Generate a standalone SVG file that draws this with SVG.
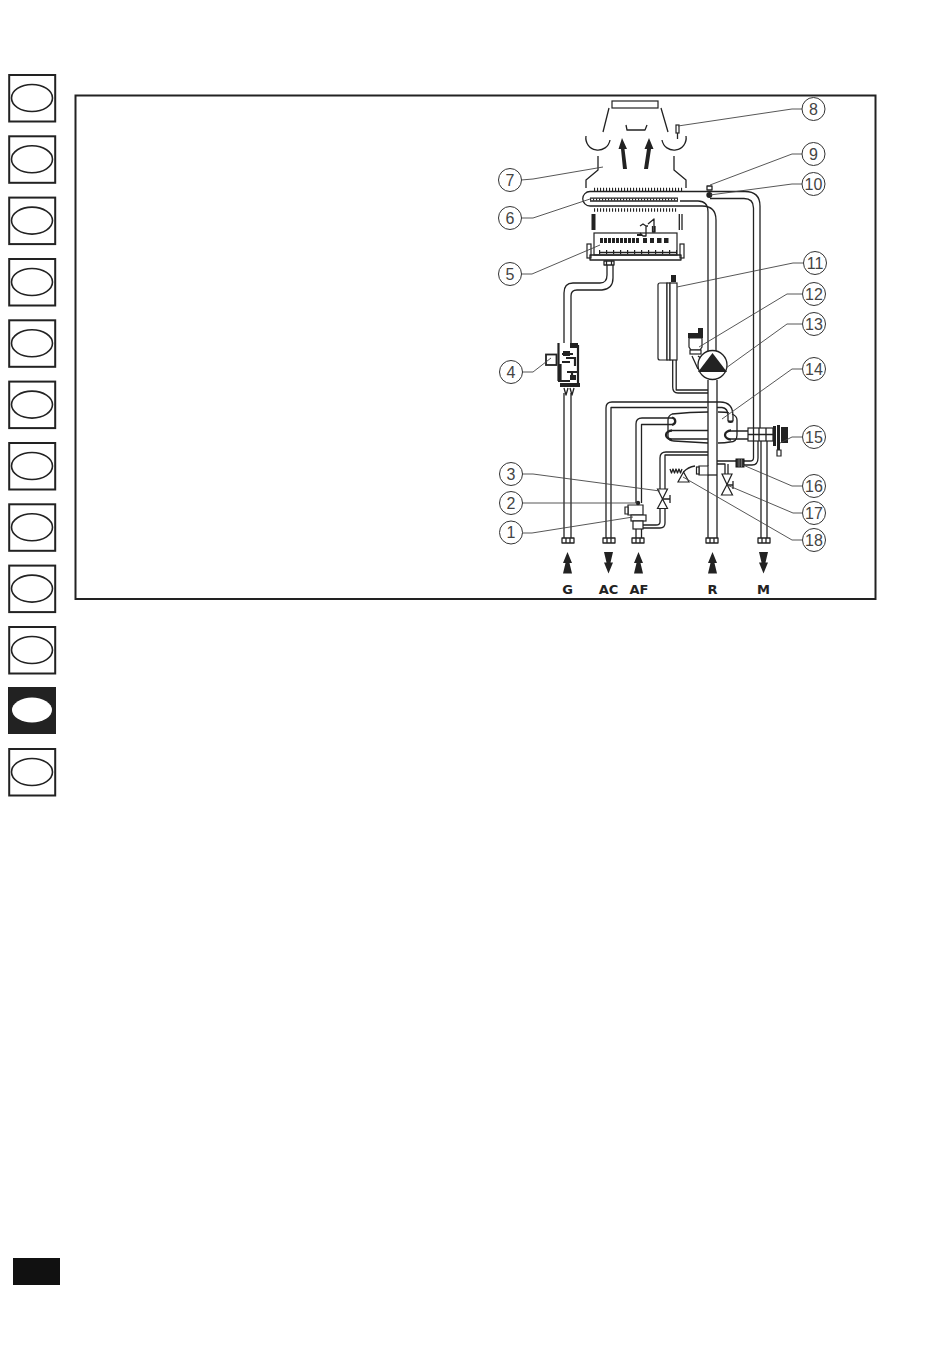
<svg xmlns="http://www.w3.org/2000/svg" width="950" height="1360" viewBox="0 0 950 1360">
<defs>
<style>
.p{fill:none;stroke:#222;stroke-width:1.3;stroke-linejoin:round}
.t{fill:none;stroke:#222;stroke-width:2.2}
.w{fill:#fff;stroke:#222;stroke-width:1.2}
.b{fill:#222;stroke:none}
.l{fill:none;stroke:#444;stroke-width:.9}
.c{fill:#fff;stroke:#333;stroke-width:1}
.n{font-family:"Liberation Sans",Arial,sans-serif;font-size:16px;fill:#444;text-anchor:middle}
.k{font-family:"DejaVu Sans",sans-serif;font-weight:bold;font-size:13px;fill:#222;text-anchor:middle}
.box{fill:#fff;stroke:#222;stroke-width:2}
.el{fill:#fff;stroke:#222;stroke-width:1.6}
.fin{fill:none;stroke:#222;stroke-width:3.5;stroke-dasharray:1.1 1.9}
</style>
<g id="tab"><rect class="box" x="9.2" y="0" width="46" height="46.5"/><ellipse class="el" cx="32" cy="23" rx="20.5" ry="13.5"/></g>
<path id="up" class="b" d="M0,0L-4.500,11H-2L-4.500,21.500H4.500L2,11H4.500Z"/>
<path id="dn" class="b" d="M0,21.500L-4.500,10.500H-2L-4.500,0H4.500L2,10.500H4.500Z"/>
</defs>

<g id="side-tabs">
<use href="#tab" y="75"/><use href="#tab" y="136.3"/><use href="#tab" y="197.6"/><use href="#tab" y="259"/>
<use href="#tab" y="320.3"/><use href="#tab" y="381.6"/><use href="#tab" y="443"/><use href="#tab" y="504.3"/>
<use href="#tab" y="565.6"/><use href="#tab" y="627"/>
<rect class="b" x="8" y="687" width="48" height="47"/><ellipse cx="32" cy="710" rx="20" ry="12.5" fill="#fff"/>
<use href="#tab" y="749"/>
</g>
<rect id="page-mark" x="13" y="1258" width="47" height="27" fill="#111"/>
<rect id="frame" x="75.5" y="95.5" width="800" height="503.5" fill="none" stroke="#222" stroke-width="2"/>

<g id="pipes">
<path class="p" d="M590,191.5H745Q760,191.5 760,206V428"/>
<path class="p" d="M710,198.5H744Q753.5,198.5 753.5,208V428"/>
<path class="p" d="M590,191.5A7.2,7.2 0 0 0 590,206H702Q716,206 716,220V352"/>
<path class="p" d="M680,201H698Q708,201 708,212V352"/>
<path class="p" d="M564,343V293Q564,283 573,283H600Q607,283 607,275V265"/>
<path class="p" d="M571,343V296Q571,290 577,290H602Q613,289 613,278V265"/>
<path class="p" d="M564,393V538M571,393V538"/>
<path class="p" d="M606,538V408Q606,402 612,402H720Q733,402 733,416V421"/>
<path class="p" d="M611,538V407.5H707M717,407.5H722Q728,408 728,416V421"/>
<path class="p" d="M636,503V424Q636,418 642,418H672"/>
<path class="p" d="M641.5,503V424.5H672"/>
<path class="p" d="M708,380V466M717,380V475M708,475V538M717,475V538"/>
<path class="p" d="M672.7,360V387Q672.7,393 678,393H708M676.2,360V390H708"/>
<path class="p" d="M660,489V458Q660,452 666,452H708M665,489V455H708"/>
<path class="p" d="M660,508V522Q660,525 656,525H643M665,508V523Q665,528 660,528H643"/>
<path class="p" d="M761,441V538M767,441V538"/>
<path class="p" d="M758,441V458Q758,465 752,465H744M753.5,441V458Q753.5,461 750,461H744"/>
<path class="p" d="M717,461H736M717,464H725V474M728,464V474"/>
</g>

<g id="hood">
<rect class="w" x="612" y="101" width="46" height="7" stroke-width="1.6"/>
<path class="p" d="M609,108L603,132M661,108L668,132M626,125L627,130H645L647,125"/>
<path class="p" d="M586,136A12,12 0 0 0 610,140M662,140A12,12 0 0 0 686,136"/>
<path class="p" d="M598,156V170L586,180V188M674,156V170L686,180V188"/>
<path class="b" d="M622,138L618.5,149H621L623,169H627L624.5,149H627ZM649,138L644.5,149H647L644,169H648L651,149H653.5Z"/>
</g>

<g id="exchanger">
<path class="fin" d="M594,189.5H683M594,210H678"/>
<path class="p" d="M590,198.2H678M590,201H678"/>
<path class="fin" style="stroke-width:2" d="M590,199.6H678"/>
<rect class="b" x="591.5" y="214" width="4" height="16"/>
<path class="p" d="M679.3,214V230M682,214V230"/>
</g>

<g id="burner">
<rect class="w" x="594" y="233" width="83" height="22"/>
<rect class="w" x="587" y="244" width="4" height="14"/><rect class="w" x="680" y="244" width="4" height="14"/>
<path class="p" d="M590,255H681V260H590Z"/>
<path class="fin" style="stroke-width:5;stroke-dasharray:3 1" d="M600,240.5H640"/>
<path class="b" d="M643,238h4v5h-4zM650,238h4v5h-4zM657,238h4.500v5h-4.500zM664,238h4.500v5h-4.500z"/>
<path class="fin" style="stroke-width:4;stroke-dasharray:1.2 5.8" d="M599,252H677"/>
<path class="p" d="M600,252.500H676"/>
<path class="p" d="M640,233L643,236H646V226L643,224L640,226M646.500,226H648M648,224L654,219V232M652.500,226V232H655V226"/>
<path class="b" d="M637,234h5v2h-5z"/>
<path class="p" d="M604,261H614V265H604ZM606.500,261V265M611.500,261V265"/>
</g>

<g id="gas-valve">
<rect x="546" y="354.500" width="10.500" height="10.500" fill="#fff" stroke="#222" stroke-width="1.800"/>
<path class="t" d="M558.500,343V381M578,345V386M560.500,364V380"/>
<path class="t" d="M558,381H570M561,386H580M562,354H573M566,358H575V366M562,362H570M567,372H577M572,372V380"/>
<path class="b" d="M570,343h8v5h-8zM563,351h7v5h-7zM570,375h6v5h-6zM560,383h20v4h-20z"/>
<path class="p" d="M564,388L566,395L568,388M570,388L572,395L574,388"/>
</g>

<g id="expansion-vessel">
<path class="w" d="M660,283H667V360H660Q658,360 658,358V285Q658,283 660,283Z"/>
<rect class="w" x="667" y="283" width="3" height="77"/>
<rect class="w" x="670" y="283" width="7" height="77"/>
<rect class="b" x="671" y="275" width="5" height="7"/>
</g>

<g id="air-vent">
<path class="b" d="M688,333H698V328H703V338H688Z"/>
<path class="w" d="M689,338H702V347L700,350H691L689,347Z"/>
<rect class="w" x="690" y="350" width="11" height="4"/>
<path class="p" d="M692,356L698,369M698,356L702,359"/>
</g>

<g id="pump">
<circle cx="712.500" cy="365" r="14.500" fill="#fff" stroke="#222" stroke-width="1.300"/>
<path class="b" d="M698,372L712.500,353L727,372Z"/>
</g>

<g id="heat-exchanger-plate">
<path class="p" d="M672,414Q690,412 708,412M718,412Q726,412 729,413M668,420V436Q668,441 674,441Q690,442 708,443M737,420V435Q737,442 730,442Q725,443 718,443"/>
<path d="M672,417.500A5,4 0 0 1 672,425M672,430.500A6,4.500 0 0 0 672,439.500M728,421A4.500,4 0 0 0 733,421M731,430.500A6,4.500 0 0 0 731,439.500" fill="none" stroke="#222" stroke-width="2.300"/>
<path class="p" d="M672,430.500H708M672,439H708M731,431H748M731,439H748"/>
<path class="p" d="M668,420Q668,416 672,414M737,420Q737,416 732,414"/>
</g>

<g id="divert-valve">
<rect class="w" x="748" y="428" width="25" height="13"/>
<path class="p" d="M753.500,428V441M759,428V441M766,428V441M748,434.500H773"/>
<path class="b" d="M773,426h3v20h-3zM777,425h3v25h-3zM781,427h7v16h-7z"/>
<path class="w" d="M777,450h4v6h-4z"/>
</g>

<g id="bypass-block">
<path class="w" d="M699,466H708V475H699Z"/>
<path class="p" d="M708,475H717"/>
<rect class="w" x="696.500" y="467" width="2.500" height="7"/>
</g>

<g id="component-16">
<rect x="736" y="459" width="8" height="8" fill="#333" stroke="#111"/>
<path d="M739,459v8M741.500,459v8" stroke="#999" stroke-width=".6"/>
</g>

<g id="valve-17">
<path class="w" d="M722,474H732L727,484.500Z"/><path class="w" d="M721.500,495H732.500L727,484.500Z"/>
<path class="p" d="M727,485H733M733,481V489"/>
</g>

<g id="valve-3">
<path class="w" d="M657.500,489H667.500L662.500,499Z"/><path class="w" d="M657.500,508.500H667.500L662.500,499Z"/>
<path class="p" d="M662.500,499H670M670,495V503"/>
</g>

<g id="safety-valve">
<path class="w" d="M678,482H689L683.500,472Z"/>
<path class="p" d="M683.500,472Q688,467 695,466"/>
<path class="p" d="M670,469L671.500,473L673,469L674.500,473L676,469L677.500,473L679,469L680.500,473L682,469"/>
</g>

<g id="cold-water-valve">
<path class="w" d="M628,505H643V515H628Z"/>
<path class="w" d="M625,507H628V514H625Z"/>
<circle cx="638" cy="503" r="2.200" class="b"/>
<rect class="w" x="631" y="515" width="15" height="6"/>
<rect class="w" x="633" y="521" width="10" height="8"/>
<path class="p" d="M636,529V538M641.500,529V538"/>
</g>

<g id="sensors">
<rect class="w" x="676" y="125" width="3" height="8"/><path class="p" d="M677.500,133V139"/>
<path class="p" d="M707,186H712V190H707Z"/>
<circle class="b" cx="709.300" cy="195" r="3"/>
</g>

<g id="connectors">
<path class="p" d="M562,538h12v5h-12zM566,538v5M570,538v5"/>
<path class="p" d="M603,538h12v5h-12zM607,538v5M611,538v5"/>
<path class="p" d="M632,538h12v5h-12zM636,538v5M640,538v5"/>
<path class="p" d="M706,538h12v5h-12zM710,538v5M714,538v5"/>
<path class="p" d="M758,538h12v5h-12zM762,538v5M766,538v5"/>
<path class="l" d="M802,109H792L678,126"/>
<path class="l" d="M802,154H792L710,185"/>
<path class="l" d="M802,184H792L710,195"/>
<path class="l" d="M521,180L533,179L603,167"/>
<path class="l" d="M521,218H533L590,199"/>
<path class="l" d="M521,274H532L600,245"/>
<path class="l" d="M804,263H793L677,287"/>
<path class="l" d="M802,294H787L699,347"/>
<path class="l" d="M802,324H787L726,368"/>
<path class="l" d="M802,369H792L722,419"/>
<path class="l" d="M802,437H792L780,443"/>
<path class="l" d="M522,372H533L551,358"/>
<path class="l" d="M802,486H792L743,465"/>
<path class="l" d="M802,513H793L727,485"/>
<path class="l" d="M802,540H792L683,477"/>
<path class="l" d="M522,474H533L660,491"/>
<path class="l" d="M522,503H637"/>
<path class="l" d="M522,533H532L633,517"/>
</g>

<g id="flow-arrows">
<g id="G"><use href="#up" x="567.500" y="552"/><text class="k" x="567.500" y="594">G</text></g>
<g id="AC"><use href="#dn" x="608.500" y="552"/><text class="k" x="608.500" y="594">AC</text></g>
<g id="AF"><use href="#up" x="638.500" y="552"/><text class="k" x="639" y="594">AF</text></g>
<g id="R"><use href="#up" x="712.500" y="552"/><text class="k" x="712.500" y="594">R</text></g>
<g id="M"><use href="#dn" x="763.500" y="552"/><text class="k" x="763.500" y="594">M</text></g>
</g>

<g id="n1"><circle class="c" cx="511" cy="532.500" r="11.500"/><text class="n" x="511" y="538.300">1</text></g>
<g id="n2"><circle class="c" cx="511" cy="503" r="11.500"/><text class="n" x="511" y="508.800">2</text></g>
<g id="n3"><circle class="c" cx="511" cy="474" r="11.500"/><text class="n" x="511" y="479.800">3</text></g>
<g id="n4"><circle class="c" cx="511" cy="372" r="11.500"/><text class="n" x="511" y="377.800">4</text></g>
<g id="n5"><circle class="c" cx="510" cy="274" r="11.500"/><text class="n" x="510" y="279.800">5</text></g>
<g id="n6"><circle class="c" cx="510" cy="218" r="11.500"/><text class="n" x="510" y="223.800">6</text></g>
<g id="n7"><circle class="c" cx="510" cy="180" r="11.500"/><text class="n" x="510" y="185.800">7</text></g>
<g id="n8"><circle class="c" cx="813.500" cy="109" r="11.500"/><text class="n" x="813.500" y="114.800">8</text></g>
<g id="n9"><circle class="c" cx="813.500" cy="154" r="11.500"/><text class="n" x="813.500" y="159.800">9</text></g>
<g id="n10"><circle class="c" cx="813.500" cy="184" r="11.500"/><text class="n" x="813.500" y="189.800">10</text></g>
<g id="n11"><circle class="c" cx="815" cy="263" r="11.500"/><text class="n" x="815" y="268.800">11</text></g>
<g id="n12"><circle class="c" cx="814" cy="294" r="11.500"/><text class="n" x="814" y="299.800">12</text></g>
<g id="n13"><circle class="c" cx="814" cy="324" r="11.500"/><text class="n" x="814" y="329.800">13</text></g>
<g id="n14"><circle class="c" cx="814" cy="369" r="11.500"/><text class="n" x="814" y="374.800">14</text></g>
<g id="n15"><circle class="c" cx="814" cy="437" r="11.500"/><text class="n" x="814" y="442.800">15</text></g>
<g id="n16"><circle class="c" cx="814" cy="486" r="11.500"/><text class="n" x="814" y="491.800">16</text></g>
<g id="n17"><circle class="c" cx="814" cy="513" r="11.500"/><text class="n" x="814" y="518.800">17</text></g>
<g id="n18"><circle class="c" cx="814" cy="540" r="11.500"/><text class="n" x="814" y="545.800">18</text></g>
</svg>
